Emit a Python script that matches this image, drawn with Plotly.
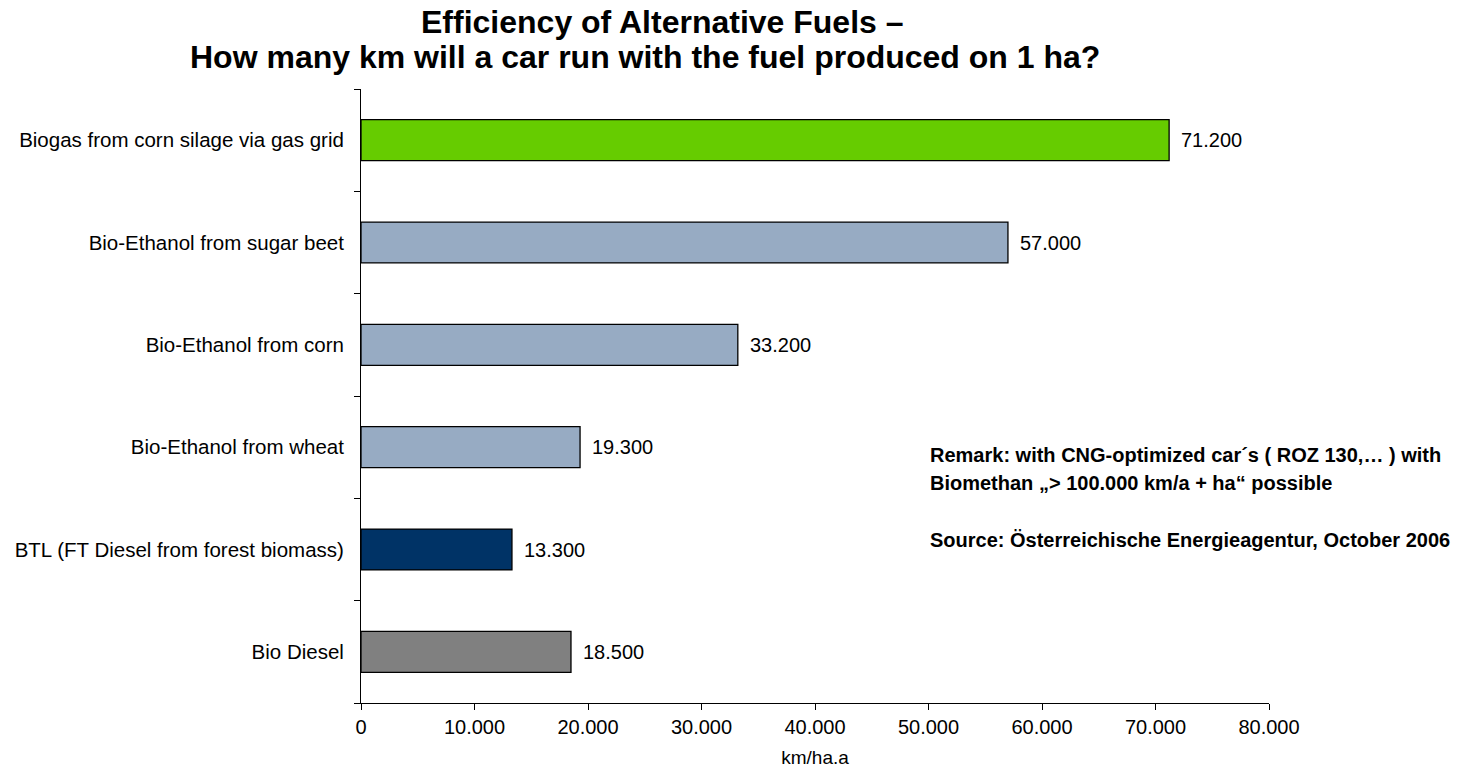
import plotly.graph_objects as go

categories = ["Biogas from corn silage via gas grid", "Bio-Ethanol from sugar beet",
              "Bio-Ethanol from corn", "Bio-Ethanol from wheat",
              "BTL (FT Diesel from forest biomass)", "Bio Diesel"]
values = [71200, 57000, 33200, 19300, 13300, 18500]
colors = ["#66CC00", "#97ABC3", "#97ABC3", "#97ABC3", "#003366", "#808080"]
x_ticks = [0, 10000, 20000, 30000, 40000, 50000, 60000, 70000, 80000]
title_lines = ["Efficiency of Alternative Fuels –",
               "How many km will a car run with the fuel produced on 1 ha?"]
remark_lines = ["Remark: with CNG-optimized car´s ( ROZ 130,… ) with",
                "Biomethan „> 100.000 km/a + ha“ possible",
                "Source: Österreichische Energieagentur, October 2006"]

FONT = "Liberation Sans, Arial, sans-serif"
L, R, T, B = 361, 194, 89, 65
W, H = 1463, 768
pw, ph = W - L - R, H - T - B


def fmt(v):
    return f"{v:,}".replace(",", ".")


fig = go.Figure(go.Bar(
    y=categories, x=values, orientation="h",
    marker=dict(color=colors, line=dict(color="#000000", width=1.3)),
    width=0.4,
    hoverinfo="x+y",
))

fig.update_layout(
    width=W, height=H,
    margin=dict(l=L, r=R, t=T, b=B, autoexpand=False),
    paper_bgcolor="white", plot_bgcolor="white",
    separators=",.",
    font=dict(family=FONT, size=20, color="#000"),
    showlegend=False,
    xaxis=dict(
        range=[0, 80000], tickvals=x_ticks, automargin=False,
        tickformat=",d", showgrid=False, zeroline=False,
        showline=True, linecolor="#000", linewidth=1,
        ticks="outside", ticklen=6, tickcolor="#000",
        tickfont=dict(size=20),
        title=dict(text="km/ha.a", font=dict(size=19), standoff=14),
    ),
    yaxis=dict(
        categoryorder="array", categoryarray=categories[::-1],
        range=[-0.5, 5.5], automargin=False,
        showgrid=False, zeroline=False,
        showline=True, linecolor="#000", linewidth=1,
        ticks="outside", ticklen=6, tickcolor="#000", tickson="boundaries",
        tickfont=dict(size=20.5), ticklabelstandoff=12,
    ),
)

# value labels next to the bars
for c, v in zip(categories, values):
    fig.add_annotation(
        x=v, y=c, xref="x", yref="y", text=fmt(v),
        xanchor="left", yanchor="middle", xshift=10, showarrow=False,
        font=dict(family=FONT, size=20, color="#000"),
    )


def px_x(x):
    return (x - L) / pw


def px_y(y):
    return (H - B - y) / ph


# title lines
for txt, xc, yc in zip(title_lines, [662, 645], [22, 57]):
    fig.add_annotation(
        xref="paper", yref="paper", x=px_x(xc), y=px_y(yc),
        xanchor="center", yanchor="middle", showarrow=False,
        text=f"<b>{txt}</b>",
        font=dict(family=FONT, size=32, color="#000"),
    )

# remark
for txt, yc in zip(remark_lines, [455, 483, 540]):
    fig.add_annotation(
        xref="paper", yref="paper", x=px_x(928), y=px_y(yc),
        xanchor="left", yanchor="middle", showarrow=False,
        text=f"<b>{txt}</b>",
        font=dict(family=FONT, size=20, color="#000"),
    )

fig.write_html("out.html")
